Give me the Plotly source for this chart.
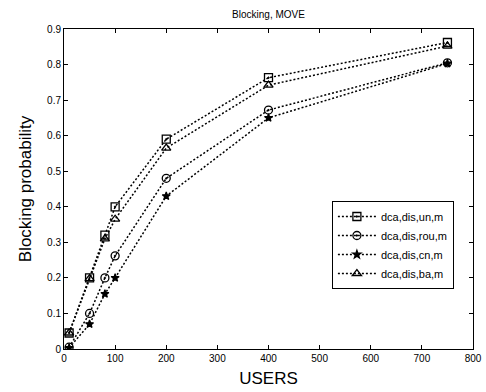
import plotly.graph_objects as go

users = [10, 50, 80, 100, 200, 400, 750]
un_m = [0.045, 0.20, 0.32, 0.40, 0.59, 0.763, 0.862]
rou_m = [0.005, 0.10, 0.20, 0.262, 0.48, 0.672, 0.805]
cn_m = [0.003, 0.07, 0.155, 0.20, 0.43, 0.650, 0.803]
ba_m = [0.045, 0.198, 0.31, 0.365, 0.565, 0.742, 0.852]

series = [
    ("dca,dis,un,m", un_m, "square-open-dot", 8),
    ("dca,dis,rou,m", rou_m, "circle-open-dot", 8),
    ("dca,dis,cn,m", cn_m, "star", 6),
    ("dca,dis,ba,m", ba_m, "triangle-up-open", 8),
]

fig = go.Figure()
for name, vals, sym, sz in series:
    fig.add_trace(go.Scatter(
        x=users, y=vals, name=name, mode="lines+markers",
        line=dict(color="black", width=1.5, dash="2px,2px"),
        marker=dict(symbol=sym, size=sz, color="black",
                    line=dict(color="black", width=1.3)),
    ))

font = "Liberation Sans, Arial, sans-serif"
fig.update_layout(
    width=486, height=392,
    margin=dict(l=64, r=13, t=29, b=43),
    paper_bgcolor="white", plot_bgcolor="white",
    font=dict(family=font, size=10, color="black"),
    title=dict(text="Blocking, MOVE", x=0.5, xref="paper", xanchor="center",
               y=0.962, yref="container", yanchor="middle",
               font=dict(size=10)),
    showlegend=True,
    legend=dict(x=0.655, y=0.4625, xanchor="left", yanchor="top",
                bgcolor="white", bordercolor="black", borderwidth=1,
                font=dict(size=11), tracegroupgap=0, itemwidth=38),
    xaxis=dict(range=[0, 800], tickmode="array", automargin=False,
               tickvals=list(range(0, 801, 100)),
               ticks="inside", ticklen=4, tickcolor="black",
               showline=True, linecolor="black", linewidth=1, mirror="ticks",
               showgrid=False, zeroline=False,
               title=dict(text="USERS", font=dict(size=17), standoff=9),
               tickfont=dict(size=10)),
    yaxis=dict(range=[0, 0.9], tickmode="array", automargin=False,
               tickvals=[0, 0.1, 0.2, 0.3, 0.4, 0.5, 0.6, 0.7, 0.8, 0.9],
               ticktext=["0", "0.1", "0.2", "0.3", "0.4", "0.5", "0.6", "0.7", "0.8", "0.9"],
               ticks="inside", ticklen=4, tickcolor="black",
               showline=True, linecolor="black", linewidth=1, mirror="ticks",
               showgrid=False, zeroline=False,
               title=dict(text="Blocking probability", font=dict(size=17), standoff=11),
               tickfont=dict(size=10)),
)

fig.write_html("out.html")
